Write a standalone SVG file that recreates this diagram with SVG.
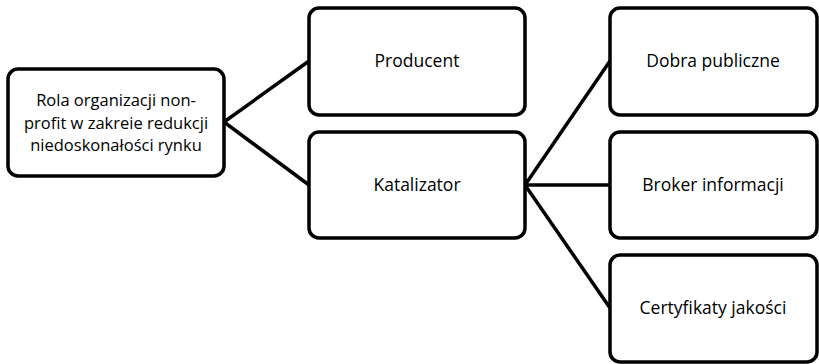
<svg xmlns="http://www.w3.org/2000/svg" width="819" height="364" viewBox="0 0 819 364">
<style>
.box{fill:#fff;stroke:#000;stroke-width:3.5}
.t{font-family:"Open Sans","Liberation Sans",sans-serif;font-size:17.5px;fill:#000;text-anchor:middle}
.r{font-size:16.5px}
.c{stroke:#000;stroke-width:3.5;fill:none}
</style>
<rect width="819" height="364" fill="#fff"/>
<g id="connectors">
<line class="c" x1="224" y1="122" x2="309" y2="61"/>
<line class="c" x1="224" y1="122" x2="309" y2="185"/>
<line class="c" x1="525" y1="185" x2="610" y2="61"/>
<line class="c" x1="525" y1="185" x2="610" y2="185"/>
<line class="c" x1="525" y1="185" x2="610" y2="308"/>
</g>
<g id="root">
<rect class="box" x="8" y="69" width="216" height="107" rx="10"/>
<text class="t r" x="116" y="106">Rola organizacji non-</text>
<text class="t r" x="116" y="128.5">profit w zakreie redukcji</text>
<text class="t r" x="116" y="151">niedoskonałości rynku</text>
</g>
<g id="producent">
<rect class="box" x="309" y="8" width="216" height="107" rx="10"/>
<text class="t" x="417" y="67">Producent</text>
</g>
<g id="katalizator">
<rect class="box" x="309" y="132" width="216" height="106" rx="10"/>
<text class="t" x="417" y="191">Katalizator</text>
</g>
<g id="dobra">
<rect class="box" x="610" y="8" width="207" height="107" rx="10"/>
<text class="t" x="713" y="67">Dobra publiczne</text>
</g>
<g id="broker">
<rect class="box" x="610" y="132" width="207" height="106" rx="10"/>
<text class="t" x="713" y="191">Broker informacji</text>
</g>
<g id="certyfikaty">
<rect class="box" x="610" y="255" width="207" height="107" rx="10"/>
<text class="t" x="713" y="314">Certyfikaty jakości</text>
</g>
</svg>
